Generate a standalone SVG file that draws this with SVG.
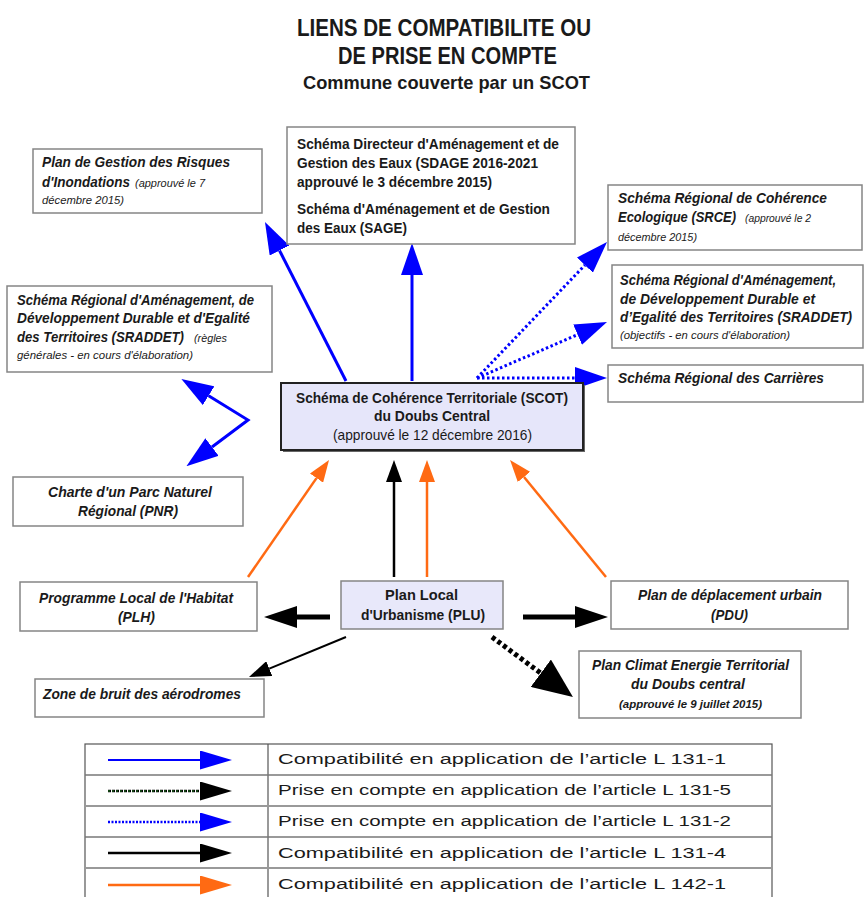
<svg xmlns="http://www.w3.org/2000/svg" width="864" height="897" viewBox="0 0 864 897">
<style>
.t{font-family:"Liberation Sans Narrow","Liberation Sans",Arial,sans-serif;fill:#1a1a1a}
.b{font-weight:bold}
.i{font-style:italic}
.n{font-size:14.5px}
.s{font-size:10px;font-style:italic;font-weight:normal}
.box{fill:#fff;stroke:#858585;stroke-width:1.5}
.lav{fill:#e8e8fa}
.lg{font-family:"Liberation Sans",Arial,sans-serif;font-size:15.5px;fill:#1a1a1a}
.blue{stroke:#0000ff;fill:none}
.orange{stroke:#ff6a13;fill:none}
.black{stroke:#000;fill:none}
</style>
<defs>
<marker id="mBlue" viewBox="0 0 32 22" markerWidth="32" markerHeight="22" refX="0" refY="11" orient="auto-start-reverse" markerUnits="userSpaceOnUse"><path d="M0,0 L32,11 L0,22 z" fill="#0000ff"/></marker>
<marker id="mOrange" viewBox="0 0 22 16" markerWidth="22" markerHeight="16" refX="0" refY="8" orient="auto" markerUnits="userSpaceOnUse"><path d="M0,0 L22,8 L0,16 z" fill="#ff6a13"/></marker>
<marker id="mBlack" viewBox="0 0 22 16" markerWidth="22" markerHeight="16" refX="0" refY="8" orient="auto" markerUnits="userSpaceOnUse"><path d="M0,0 L22,8 L0,16 z" fill="#000"/></marker>
<marker id="mBlackBig" viewBox="0 0 33 22" markerWidth="33" markerHeight="22" refX="0" refY="11" orient="auto" markerUnits="userSpaceOnUse"><path d="M0,0 L33,11 L0,22 z" fill="#000"/></marker>
<marker id="mBlackHuge" viewBox="0 0 40 34" markerWidth="40" markerHeight="34" refX="0" refY="17" orient="auto" markerUnits="userSpaceOnUse"><path d="M0,0 L40,17 L0,34 z" fill="#000"/></marker>
<marker id="mLBlue" viewBox="0 0 32 19" markerWidth="32" markerHeight="19" refX="0" refY="9.5" orient="auto" markerUnits="userSpaceOnUse"><path d="M0,0 L32,9.5 L0,19 z" fill="#0000ff"/></marker>
<marker id="mLBlack" viewBox="0 0 32 19" markerWidth="32" markerHeight="19" refX="0" refY="9.5" orient="auto" markerUnits="userSpaceOnUse"><path d="M0,0 L32,9.5 L0,19 z" fill="#000"/></marker>
<marker id="mLOrange" viewBox="0 0 32 19" markerWidth="32" markerHeight="19" refX="0" refY="9.5" orient="auto" markerUnits="userSpaceOnUse"><path d="M0,0 L32,9.5 L0,19 z" fill="#ff6a13"/></marker>
</defs>
<rect width="864" height="897" fill="#fff"/>

<g id="title" class="t b">
<text x="297" y="36" font-size="24" textLength="294" lengthAdjust="spacingAndGlyphs">LIENS DE COMPATIBILITE OU</text>
<text x="338" y="64" font-size="24" textLength="219" lengthAdjust="spacingAndGlyphs">DE PRISE EN COMPTE</text>
<text x="303" y="89" font-size="18.5" textLength="287" lengthAdjust="spacingAndGlyphs">Commune couverte par un SCOT</text>
</g>

<g id="connectors">
<line class="blue" stroke-width="3" x1="346" y1="381" x2="279.5" y2="250.5" marker-end="url(#mBlue)"/>
<line class="blue" stroke-width="3" x1="412" y1="381" x2="412" y2="275" marker-end="url(#mBlue)"/>
<line class="blue" stroke-width="3" stroke-dasharray="2.5 2.5" x1="477" y1="378" x2="584.9" y2="265.1" marker-end="url(#mBlue)"/>
<line class="blue" stroke-width="3" stroke-dasharray="2.5 2.5" x1="477" y1="378" x2="577.6" y2="334.7" marker-end="url(#mBlue)"/>
<line class="blue" stroke-width="3" stroke-dasharray="2.5 2.5" x1="477" y1="378" x2="575" y2="378" marker-end="url(#mBlue)"/>
<polyline class="blue" stroke-width="3" points="208.6,395.7 248,420 212,447" marker-start="url(#mBlue)" marker-end="url(#mBlue)"/>
<line class="orange" stroke-width="2.5" x1="248" y1="577" x2="316.5" y2="478.1" marker-end="url(#mOrange)"/>
<line class="black" stroke-width="2.5" x1="394" y1="577" x2="394" y2="482" marker-end="url(#mBlack)"/>
<line class="orange" stroke-width="2.5" x1="427" y1="577" x2="427" y2="482" marker-end="url(#mOrange)"/>
<line class="orange" stroke-width="2.5" x1="606" y1="577" x2="524" y2="477" marker-end="url(#mOrange)"/>
<line class="black" stroke-width="5" x1="330" y1="617" x2="297" y2="617" marker-end="url(#mBlackBig)"/>
<line class="black" stroke-width="5" x1="523" y1="617" x2="575" y2="617" marker-end="url(#mBlackBig)"/>
<line class="black" stroke-width="2" x1="346" y1="637" x2="269.3" y2="668.6" marker-end="url(#mBlack)"/>
<line class="black" stroke-width="5" stroke-dasharray="4 3" x1="492" y1="637" x2="540.8" y2="673.2" marker-end="url(#mBlackHuge)"/>
</g>

<g id="pgri">
<rect class="box" x="33" y="149" width="229" height="64"/>
<text class="t b i n" x="42" y="167" textLength="188" lengthAdjust="spacingAndGlyphs">Plan de Gestion des Risques</text>
<text class="t b i n" x="42" y="187" textLength="88" lengthAdjust="spacingAndGlyphs">d'Inondations</text>
<text class="t s" x="135" y="187" textLength="70" lengthAdjust="spacingAndGlyphs">(approuvé le 7</text>
<text class="t s" x="42" y="204" textLength="82" lengthAdjust="spacingAndGlyphs">décembre 2015)</text>
</g>

<g id="sdage">
<rect class="box" x="287" y="127" width="288" height="117"/>
<text class="t b n" x="297" y="149" textLength="262" lengthAdjust="spacingAndGlyphs">Schéma Directeur d'Aménagement et de</text>
<text class="t b n" x="297" y="168" textLength="241" lengthAdjust="spacingAndGlyphs">Gestion des Eaux (SDAGE 2016-2021</text>
<text class="t b n" x="297" y="187" textLength="195" lengthAdjust="spacingAndGlyphs">approuvé le 3 décembre 2015)</text>
<text class="t b n" x="297" y="214" textLength="253" lengthAdjust="spacingAndGlyphs">Schéma d'Aménagement et de Gestion</text>
<text class="t b n" x="297" y="233" textLength="110" lengthAdjust="spacingAndGlyphs">des Eaux (SAGE)</text>
</g>

<g id="srce">
<rect class="box" x="608" y="185" width="254" height="65"/>
<text class="t b i n" x="618" y="203" textLength="209" lengthAdjust="spacingAndGlyphs">Schéma Régional de Cohérence</text>
<text class="t b i n" x="618" y="222" textLength="118" lengthAdjust="spacingAndGlyphs">Ecologique (SRCE)</text>
<text class="t s" x="745" y="222" textLength="66" lengthAdjust="spacingAndGlyphs">(approuvé le 2</text>
<text class="t s" x="618" y="241" textLength="79" lengthAdjust="spacingAndGlyphs">décembre 2015)</text>
</g>

<g id="sraddet-objectifs">
<rect class="box" x="612" y="265" width="251" height="83"/>
<text class="t b i n" x="620" y="285" textLength="216" lengthAdjust="spacingAndGlyphs">Schéma Régional d'Aménagement,</text>
<text class="t b i n" x="620" y="304" textLength="195" lengthAdjust="spacingAndGlyphs">de Développement Durable et</text>
<text class="t b i n" x="620" y="322" textLength="232" lengthAdjust="spacingAndGlyphs">d’Egalité des Territoires (SRADDET)</text>
<text class="t s" x="620" y="339" textLength="170" lengthAdjust="spacingAndGlyphs">(objectifs - en cours d'élaboration)</text>
</g>

<g id="carrieres">
<rect class="box" x="608" y="365" width="255" height="37"/>
<text class="t b i n" x="618" y="383" textLength="206" lengthAdjust="spacingAndGlyphs">Schéma Régional des Carrières</text>
</g>

<g id="sraddet-regles">
<rect class="box" x="7" y="286" width="265" height="86"/>
<text class="t b i n" x="17" y="305" textLength="237" lengthAdjust="spacingAndGlyphs">Schéma Régional d'Aménagement, de</text>
<text class="t b i n" x="17" y="323" textLength="233" lengthAdjust="spacingAndGlyphs">Développement Durable et d'Egalité</text>
<text class="t b i n" x="17" y="342" textLength="167" lengthAdjust="spacingAndGlyphs">des Territoires (SRADDET)</text>
<text class="t s" x="194" y="342" textLength="33" lengthAdjust="spacingAndGlyphs">(règles</text>
<text class="t s" x="17" y="359" textLength="176" lengthAdjust="spacingAndGlyphs">générales - en cours d'élaboration)</text>
</g>

<g id="scot">
<rect x="283" y="385" width="302" height="67" fill="#666"/>
<rect x="281" y="383" width="302" height="67" fill="#e6e6fa" stroke="#222" stroke-width="2"/>
<text class="t b n" x="296" y="403" textLength="272" lengthAdjust="spacingAndGlyphs">Schéma de Cohérence Territoriale (SCOT)</text>
<text class="t b n" x="374" y="421" textLength="116" lengthAdjust="spacingAndGlyphs">du Doubs Central</text>
<text class="t n" x="333" y="440" fill="#333" textLength="199" lengthAdjust="spacingAndGlyphs">(approuvé le 12 décembre 2016)</text>
</g>

<g id="pnr">
<rect class="box" x="13" y="477" width="230" height="49"/>
<text class="t b i n" x="48" y="497" textLength="164" lengthAdjust="spacingAndGlyphs">Charte d'un Parc Naturel</text>
<text class="t b i n" x="78" y="516" textLength="100" lengthAdjust="spacingAndGlyphs">Régional (PNR)</text>
</g>

<g id="plh">
<rect class="box" x="20" y="582" width="237" height="49"/>
<text class="t b i n" x="39" y="603" textLength="194" lengthAdjust="spacingAndGlyphs">Programme Local de l'Habitat</text>
<text class="t b i n" x="118" y="622" textLength="37" lengthAdjust="spacingAndGlyphs">(PLH)</text>
</g>

<g id="plu">
<rect class="box lav" x="341" y="581" width="162" height="48"/>
<text class="t b n" x="385" y="600" textLength="73" lengthAdjust="spacingAndGlyphs">Plan Local</text>
<text class="t b n" x="361" y="620" textLength="124" lengthAdjust="spacingAndGlyphs">d'Urbanisme (PLU)</text>
</g>

<g id="pdu">
<rect class="box" x="611" y="581" width="237" height="48"/>
<text class="t b i n" x="638" y="600" textLength="184" lengthAdjust="spacingAndGlyphs">Plan de déplacement urbain</text>
<text class="t b i n" x="711" y="620" textLength="37" lengthAdjust="spacingAndGlyphs">(PDU)</text>
</g>

<g id="zone-bruit">
<rect class="box" x="35" y="679" width="229" height="38"/>
<text class="t b i n" x="43" y="699" textLength="198" lengthAdjust="spacingAndGlyphs">Zone de bruit des aérodromes</text>
</g>

<g id="pcet">
<rect class="box" x="579" y="651" width="222" height="67"/>
<text class="t b i n" x="592" y="670" textLength="197" lengthAdjust="spacingAndGlyphs">Plan Climat Energie Territorial</text>
<text class="t b i n" x="631" y="689" textLength="114" lengthAdjust="spacingAndGlyphs">du Doubs central</text>
<text class="t b i" x="619" y="708" font-size="10.5" textLength="143" lengthAdjust="spacingAndGlyphs">(approuvé le 9 juillet 2015)</text>
</g>

<g id="legend">
<rect x="85" y="744" width="687" height="160" fill="#fff" stroke="#555" stroke-width="1.2"/>
<line x1="268" y1="744" x2="268" y2="897" stroke="#555" stroke-width="1.2"/>
<line x1="85" y1="775" x2="772" y2="775" stroke="#777" stroke-width="1.5"/>
<line x1="85" y1="806" x2="772" y2="806" stroke="#999" stroke-width="2"/>
<line x1="85" y1="837" x2="772" y2="837" stroke="#777" stroke-width="1.5"/>
<line x1="85" y1="868" x2="772" y2="868" stroke="#999" stroke-width="2"/>
<line class="blue" stroke-width="2" x1="108" y1="760" x2="200" y2="760" marker-end="url(#mLBlue)"/>
<line class="black" stroke-width="2.5" stroke-dasharray="3 1" x1="108" y1="791" x2="200" y2="791" marker-end="url(#mLBlack)"/>
<line stroke="#1f7a1f" stroke-width="1" stroke-dasharray="2 2" x1="108" y1="791" x2="200" y2="791"/>
<line class="blue" stroke-width="2.5" stroke-dasharray="2 1.5" x1="108" y1="822" x2="200" y2="822" marker-end="url(#mLBlue)"/>
<line class="black" stroke-width="2.5" x1="108" y1="853" x2="200" y2="853" marker-end="url(#mLBlack)"/>
<line class="orange" stroke-width="2.5" x1="108" y1="885" x2="200" y2="885" marker-end="url(#mLOrange)"/>
<text class="lg" x="278" y="764" textLength="448" lengthAdjust="spacingAndGlyphs">Compatibilité en application de l’article L 131-1</text>
<text class="lg" x="278" y="795" textLength="453" lengthAdjust="spacingAndGlyphs">Prise en compte en application de l’article L 131-5</text>
<text class="lg" x="278" y="826" textLength="453" lengthAdjust="spacingAndGlyphs">Prise en compte en application de l’article L 131-2</text>
<text class="lg" x="278" y="858" textLength="448" lengthAdjust="spacingAndGlyphs">Compatibilité en application de l’article L 131-4</text>
<text class="lg" x="278" y="889" textLength="448" lengthAdjust="spacingAndGlyphs">Compatibilité en application de l’article L 142-1</text>
</g>
</svg>
